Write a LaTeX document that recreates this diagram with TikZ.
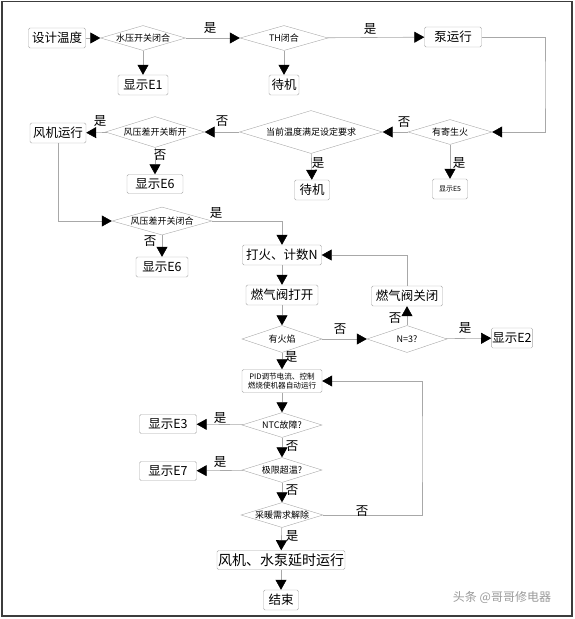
\documentclass[tikz,border=0pt]{standalone}
\usepackage{fontspec}
\setmainfont{Noto Sans CJK SC}
\usetikzlibrary{arrows.meta,shapes.geometric}
\definecolor{edge}{HTML}{A8A8A8}
\definecolor{frame}{HTML}{3C3C3C}
\definecolor{wmgray}{HTML}{9A9A9A}

\begin{document}
\begin{tikzpicture}[
  x=1pt,y=-1pt,
  box/.style={draw=edge,rounded corners=1.5pt,minimum height=20pt,inner sep=1pt,font=\fontsize{12.5}{14}\selectfont},
  dec/.style={draw=edge,shape=diamond,aspect=3.3,inner sep=0pt,font=\fontsize{9}{10}\selectfont},
  lbl/.style={font=\fontsize{12.5}{14}\selectfont},
  go/.style={edge,line width=0.6pt,-{Triangle[length=10pt,width=11pt,black]}},
]
  \useasboundingbox (0,0) rectangle (575,619);
  \draw[frame,line width=1.2pt] (2,1.5) rectangle (572,616);
  \draw[frame,line width=2pt] (2,1.5) -- (2,616);

  % Row 1: start
  \node[box,minimum width=57pt] (set) at (57,38) {设计温度};
  \node[dec,minimum width=85pt,minimum height=25pt] (wp) at (143,38) {水压开关闭合};
  \node[dec,minimum width=88pt,minimum height=25pt] (th) at (284,38) {TH闭合};
  \node[box,minimum width=57pt] (pump) at (453,37) {泵运行};
  \node[box,minimum width=50pt] (e1) at (143,85) {显示E1};
  \node[box,minimum width=30pt] (wait1) at (284,85) {待机};
  \draw[go] (set) -- (wp);
  \draw[go] (wp) -- (th);
  \draw[go] (th) -- (pump);
  \draw[go] (wp) -- (e1);
  \draw[go] (th) -- (wait1);
  \node[lbl] (y1) at (210,28) {是};
  \node[lbl] (y2) at (370,29) {是};

  % Row 2: checks before ignition
  \coordinate (r1) at (545,85);
  \node[dec,minimum width=84pt,minimum height=25pt] (para) at (450,132) {有寄生火};
  \node[dec,minimum width=143pt,minimum height=43pt] (temp) at (311,132) {当前温度满足设定要求};
  \node[dec,minimum width=99pt,minimum height=31pt] (wsd) at (155,132) {风压差开关断开};
  \node[box,minimum width=56pt] (fan) at (58,133) {风机运行};
  \node[box,minimum width=56pt,minimum height=19pt] (e6a) at (155,184) {显示E6};
  \node[box,minimum width=35pt] (wait2) at (312,190) {待机};
  \node[box,minimum width=35pt,font=\fontsize{7}{8}\selectfont] (e5) at (450,189) {显示E5};
  \draw[go] (pump.east) -| (r1) |- (para.east);
  \draw[go] (para) -- (temp);
  \draw[go] (para) -- (e5);
  \draw[go] (temp) -- (wait2);
  \draw[go] (temp) -- (wsd);
  \draw[go] (wsd) -- (fan);
  \draw[go] (wsd) -- (e6a);
  \node[lbl] (n1) at (404,122) {否};
  \node[lbl] (y3) at (459,163) {是};
  \node[lbl] (y4) at (318,163) {是};
  \node[lbl] (n2) at (222,121) {否};
  \node[lbl] (y5) at (100,121) {是};
  \node[lbl] (n3) at (160,155) {否};

  % Row 3: ignition
  \node[dec,minimum width=100pt,minimum height=28pt] (wsc) at (162,221) {风压差开关闭合};
  \node[box,minimum width=52pt] (e6b) at (162,267) {显示E6};
  \node[box,minimum width=79pt] (fire) at (282,255) {打火、计数N};
  \node[box,minimum width=72pt] (open) at (282,295) {燃气阀打开};
  \node[box,minimum width=71pt] (close) at (407,296) {燃气阀关闭};
  \node[dec,minimum width=80pt,minimum height=27pt] (flame) at (282,339) {有火焰};
  \node[dec,minimum width=80pt,minimum height=27pt] (cnt) at (407,339) {N=3?};
  \node[box,minimum width=40pt] (e2) at (512,338) {显示E2};
  \draw[go] (fan.south) |- (wsc.west);
  \draw[go] (wsc) -- (e6b);
  \draw[go] (wsc.east) -| (fire.north);
  \draw[go] (fire) -- (open);
  \draw[go] (open) -- (flame);
  \draw[go] (flame) -- (cnt);
  \draw[go] (cnt) -- (close);
  \draw[go] (close.north) |- (fire.east);
  \draw[go] (cnt) -- (e2);
  \node[lbl] (y6) at (216,213) {是};
  \node[lbl] (n4) at (150,241) {否};
  \node[lbl] (n5) at (340,329) {否};
  \node[lbl] (n6) at (395,318) {否};
  \node[lbl] (y7) at (465,328) {是};

  % Row 4: burning
  \coordinate (r2) at (422,450);
  \node[box,minimum width=80pt,minimum height=23pt,align=center,font=\fontsize{7.6}{9.2}\selectfont] (pid) at (282,381) {PID调节电流、控制\\燃烧使机器自动运行};
  \node[dec,minimum width=80pt,minimum height=25pt] (ntc) at (282,425) {NTC故障?};
  \node[dec,minimum width=80pt,minimum height=25pt] (over) at (282,470) {极限超温?};
  \node[dec,minimum width=82pt,minimum height=25pt] (heat) at (282,515) {采暖需求解除};
  \node[box,minimum width=57pt,minimum height=19pt] (e3) at (168,424) {显示E3};
  \node[box,minimum width=57pt,minimum height=19pt] (e7) at (168,471) {显示E7};
  \node[box,minimum width=125pt,minimum height=19pt,font=\fontsize{14}{16}\selectfont] (delay) at (281,560) {风机、水泵延时运行};
  \node[box,minimum width=35pt] (stop) at (281,600) {结束};
  \draw[go] (flame) -- (pid);
  \draw[go] (pid) -- (ntc);
  \draw[go] (ntc) -- (e3);
  \draw[go] (ntc) -- (over);
  \draw[go] (over) -- (e7);
  \draw[go] (over) -- (heat);
  \draw[go] (heat.east) -| (r2) |- (pid.east);
  \draw[go] (heat) -- (delay);
  \draw[go] (delay) -- (stop);
  \node[lbl] (y8) at (291,357) {是};
  \node[lbl] (y9) at (220,418) {是};
  \node[lbl] (n7) at (292,446) {否};
  \node[lbl] (y10) at (220,462) {是};
  \node[lbl] (n8) at (292,490) {否};
  \node[lbl] (n9) at (362,511) {否};
  \node[lbl] (y11) at (292,536) {是};

  % watermark
  \node[wmgray,font=\fontsize{12}{14}\selectfont] (wm) at (502,597) {头条 @哥哥修电器};
\end{tikzpicture}
\end{document}
